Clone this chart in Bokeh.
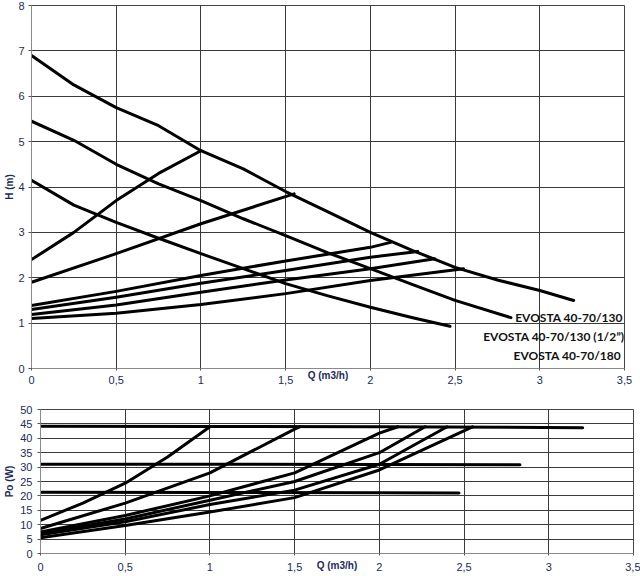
from bokeh.plotting import figure
from bokeh.models import FixedTicker, Range1d, CustomJSTickFormatter
from bokeh.core.properties import value
from bokeh.embed import file_html
from bokeh.resources import INLINE

# ---------------- Top chart: H (m) vs Q (m3/h) ----------------
# pump curves
q_180 = [0, 0.25, 0.5, 0.75, 1.0, 1.25, 1.5, 1.75, 2.0, 2.25, 2.5, 2.75, 3.0, 3.2]
h_180 = [6.9, 6.25, 5.75, 5.35, 4.8, 4.4, 3.9, 3.45, 3.0, 2.6, 2.23, 1.95, 1.72, 1.5]
q_130 = [0, 0.25, 0.5, 0.75, 1.0, 1.25, 1.5, 1.75, 2.0, 2.25, 2.5, 2.83]
h_130 = [5.45, 5.03, 4.5, 4.07, 3.7, 3.3, 2.93, 2.55, 2.2, 1.85, 1.5, 1.12]
q_130h = [0, 0.25, 0.5, 0.75, 1.0, 1.25, 1.5, 1.75, 2.0, 2.25, 2.47]
h_130h = [4.15, 3.6, 3.22, 2.87, 2.53, 2.2, 1.87, 1.6, 1.35, 1.12, 0.93]
# system / speed curves (rising)
q_a = [0, 0.25, 0.5, 0.75, 1.0]
h_a = [2.4, 3.0, 3.7, 4.3, 4.8]
q_b = [0, 0.5, 1.0, 1.55]
h_b = [1.9, 2.53, 3.19, 3.85]
q_c = [0, 0.5, 1.0, 1.5, 2.0, 2.12]
h_c = [1.39, 1.7, 2.05, 2.37, 2.67, 2.78]
q_d = [0, 0.5, 1.0, 1.5, 2.0, 2.28]
h_d = [1.3, 1.57, 1.88, 2.16, 2.45, 2.58]
q_e = [0, 0.5, 1.0, 1.5, 2.0, 2.38]
h_e = [1.19, 1.4, 1.68, 1.95, 2.2, 2.42]
q_f = [0, 0.5, 1.0, 1.5, 2.0, 2.55]
h_f = [1.1, 1.22, 1.41, 1.65, 1.94, 2.2]

labels = ["EVOSTA 40-70/130", "EVOSTA 40-70/130 (1/2\u201d)", "EVOSTA 40-70/180"]
label_q = [3.49, 3.5, 3.48]
label_h = [1.12, 0.7, 0.29]

# ---------------- Bottom chart: P (W) vs Q (m3/h) ----------------
q_p180 = [0, 1.0, 2.0, 3.2]
p_p180 = [44.2, 44.1, 44.0, 43.7]
q_p130 = [0, 1.0, 2.0, 2.83]
p_p130 = [31.0, 31.0, 30.9, 30.8]
q_p130h = [0, 1.0, 2.0, 2.47]
p_p130h = [21.3, 21.2, 21.1, 21.0]
q_pa = [0, 0.25, 0.5, 0.75, 1.0]
p_pa = [11.5, 17.5, 24.4, 33.5, 44.0]
q_pb = [0, 0.5, 1.0, 1.5, 1.53]
p_pb = [8.7, 17.5, 28.0, 43.2, 44.0]
q_pc = [0, 0.5, 1.0, 1.5, 2.0, 2.11]
p_pc = [7.5, 13.2, 20.0, 28.0, 41.8, 44.0]
q_pd = [0, 0.5, 1.0, 1.5, 2.0, 2.27]
p_pd = [7.0, 12.0, 18.5, 25.0, 35.0, 44.0]
q_pe = [0, 0.5, 1.0, 1.5, 2.0, 2.4]
p_pe = [6.5, 11.0, 17.0, 22.0, 31.0, 44.0]
q_pf = [0, 0.5, 1.0, 1.5, 2.0, 2.55]
p_pf = [5.5, 9.7, 14.4, 19.4, 29.0, 44.0]

x_ticks = [0, 0.5, 1, 1.5, 2, 2.5, 3, 3.5]
h_ticks = [0, 1, 2, 3, 4, 5, 6, 7, 8]
p_ticks = [0, 5, 10, 15, 20, 25, 30, 35, 40, 45, 50]

TICK_COLOR = "#1c2b5a"
FONT = "Liberation Sans"
fmt = CustomJSTickFormatter(code="return String(tick).replace('.', ',');")


def style(p, yticks, x_standoff, xlabel_standoff, y_standoff, ylabel_standoff):
    p.xaxis.ticker = FixedTicker(ticks=x_ticks)
    p.yaxis.ticker = FixedTicker(ticks=yticks)
    p.xaxis.formatter = fmt
    for ax in (p.xaxis, p.yaxis):
        ax.major_label_text_font = FONT
        ax.major_label_text_font_size = "11px"
        ax.major_label_text_color = TICK_COLOR
        ax.axis_line_color = "#8a8a8a"
        ax.major_tick_line_color = "#555555"
        ax.major_tick_in = 0
        ax.minor_tick_line_color = None
        ax.axis_label_text_font = FONT
        ax.axis_label_text_font_style = "bold"
        ax.axis_label_text_font_size = "10px"
        ax.axis_label_text_color = TICK_COLOR
    p.yaxis.major_tick_out = 3
    p.yaxis.major_label_standoff = y_standoff
    p.yaxis.axis_label_standoff = ylabel_standoff
    p.xaxis.major_tick_out = 2
    p.xaxis.major_label_standoff = x_standoff
    p.xaxis.axis_label = "Q (m3/h)"
    p.xaxis.axis_label_standoff = xlabel_standoff
    p.xgrid.grid_line_color = "#3a3a3a"
    p.ygrid.grid_line_color = "#3a3a3a"
    p.xgrid.grid_line_width = 1
    p.ygrid.grid_line_width = 1
    p.outline_line_color = "#444444"
    p.background_fill_color = "white"
    p.border_fill_color = "white"


p1 = figure(frame_width=593, frame_height=363,
            x_range=Range1d(0, 3.5), y_range=Range1d(0, 8),
            output_backend="svg", toolbar_location=None,
            min_border_top=5, min_border_right=8, min_border_left=31, min_border_bottom=20)
style(p1, h_ticks, 5, -17, 4, 0)
p1.yaxis.axis_label = "H (m)"

for qs, hs in [(q_180, h_180), (q_130, h_130), (q_130h, h_130h),
               (q_a, h_a), (q_b, h_b), (q_c, h_c), (q_d, h_d), (q_e, h_e), (q_f, h_f)]:
    p1.line(qs, hs, line_color="black", line_width=3, line_join="round", line_cap="round")

p1.text(x=label_q, y=label_h, text=labels, text_align="right", text_baseline="middle",
        text_font=value("Lato"), text_font_style="bold", text_font_size="12px", text_color="#111111")

p2 = figure(frame_width=593, frame_height=144,
            x_range=Range1d(0, 3.5), y_range=Range1d(0, 50),
            output_backend="svg", toolbar_location=None,
            min_border_top=21, min_border_right=7, min_border_left=40, min_border_bottom=22)
style(p2, p_ticks, 7, -14, 5, 2)
p2.yaxis.axis_label = "Po (W)"

for qs, ps in [(q_p180, p_p180), (q_p130, p_p130), (q_p130h, p_p130h),
               (q_pa, p_pa), (q_pb, p_pb), (q_pc, p_pc), (q_pd, p_pd), (q_pe, p_pe), (q_pf, p_pf)]:
    p2.line(qs, ps, line_color="black", line_width=3, line_join="round", line_cap="round")

open("out.html", "w").write(file_html([p1, p2], INLINE))
